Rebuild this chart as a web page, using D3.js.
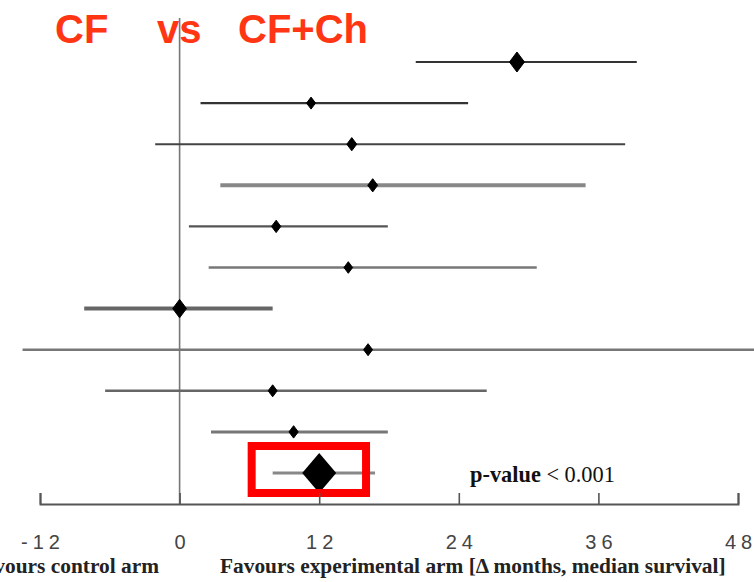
<!DOCTYPE html>
<html><head><meta charset="utf-8">
<script src="https://cdn.jsdelivr.net/npm/d3@7/dist/d3.min.js"></script>
<style>html,body{margin:0;padding:0;background:#fff;}svg{display:block;}</style>
</head><body>
<svg id="c" width="754" height="582"></svg>
<script>
// ---- data (months difference in median survival) ----
const rows     = [1, 2, 3, 4, 5, 6, 7, 8, 9, 10];
const estimate = [29.0, 11.3, 14.8, 16.6, 8.3, 14.5, 0.0, 16.2, 8.0, 9.8];
const lower    = [20.3, 1.8, -2.1, 3.5, 0.8, 2.5, -8.2, -13.5, -6.4, 2.7];
const upper    = [39.3, 24.8, 38.3, 34.9, 17.9, 30.7, 8.0, 52.0, 26.4, 17.9];
const weight   = [3.0, 1.0, 1.3, 1.3, 1.1, 0.9, 2.6, 1.0, 1.0, 1.1];
const pooledEst = 12.0, pooledLo = 8.0, pooledHi = 16.8;
const tickValues = [-12, 0, 12, 24, 36, 48];
const titleParts = ["CF", "vs", "CF+Ch"];
const leftLabel = "Favours control arm";
const rightLabel = "Favours experimental arm [\u0394 months, median survival]";
const pLabelBold = "p-value", pLabelRest = " < 0.001";

// ---- layout ----
const svg = d3.select("#c");
const x = d3.scaleLinear().domain([-12, 48]).range([40, 738]);
const y = d3.scalePoint().domain(d3.range(rows.length + 1)).range([62, 473]);
const hScale = d3.scaleLinear().domain([1, 3]).range([6, 10]);
const axisY = 504;
const serif = "Liberation Serif, Times New Roman, serif";

// title
const titleX = [55, 157, 238];
svg.selectAll("text.title").data(titleParts).join("text")
  .attr("class", "title")
  .attr("x", (d, i) => titleX[i]).attr("y", 43)
  .attr("font-family", "Liberation Sans, Arial, sans-serif")
  .attr("font-weight", "bold").attr("font-size", 40)
  .attr("fill", "#ff3514").text(d => d);

// zero line
svg.append("line")
  .attr("x1", x(0)).attr("x2", x(0)).attr("y1", 18).attr("y2", axisY)
  .attr("stroke", "#777").attr("stroke-width", 1.6);

// CI lines
const lineColor = ["#333", "#333", "#444", "#888", "#555", "#777", "#666", "#777", "#666", "#777"];
const lineWidth = [2.2, 2.2, 2, 4, 2.4, 2.4, 4, 2.6, 2.4, 3];
svg.selectAll("line.ci").data(rows).join("line")
  .attr("class", "ci")
  .attr("x1", (d, i) => x(lower[i])).attr("x2", (d, i) => x(upper[i]))
  .attr("y1", (d, i) => y(i)).attr("y2", (d, i) => y(i))
  .attr("stroke", (d, i) => lineColor[i]).attr("stroke-width", (d, i) => lineWidth[i]);

const diamond = (cx, cy, hw, hh) => `M${cx},${cy - hh}L${cx + hw},${cy}L${cx},${cy + hh}L${cx - hw},${cy}Z`;
svg.selectAll("path.pt").data(rows).join("path")
  .attr("class", "pt")
  .attr("d", (d, i) => { const hh = hScale(weight[i]); return diamond(x(estimate[i]), y(i), hh * 0.75, hh); })
  .attr("fill", "#000").attr("stroke", "#000").attr("stroke-width", 1).attr("stroke-linejoin", "round");

// pooled
const py = y(rows.length);
svg.append("line")
  .attr("x1", x(pooledLo)).attr("x2", x(pooledHi)).attr("y1", py).attr("y2", py)
  .attr("stroke", "#888").attr("stroke-width", 3);
svg.append("path").attr("d", diamond(x(pooledEst), py, 17, 20)).attr("fill", "#000");

// red highlight box
svg.append("rect")
  .attr("x", x(pooledLo) - 21).attr("y", py - 27)
  .attr("width", x(pooledHi) - x(pooledLo) + 12).attr("height", 47)
  .attr("fill", "none").attr("stroke", "#f00").attr("stroke-width", 8);

// p-value
const pt = svg.append("text").attr("x", 470).attr("y", 482)
  .attr("font-family", serif).attr("font-size", 15).attr("fill", "#111");
pt.append("tspan").attr("font-weight", "bold").text(pLabelBold);
pt.append("tspan").text(pLabelRest);
const pw = pt.node().getComputedTextLength();
pt.attr("font-size", 15 * 145 / pw);

// axis
const axis = d3.axisBottom(x).tickValues(tickValues).tickFormat(d => String(d))
  .tickSizeInner(-11).tickSizeOuter(-11).tickPadding(31);
const ag = svg.append("g").attr("transform", `translate(0,${axisY})`).call(axis);
ag.select(".domain").attr("stroke", "#555").attr("stroke-width", 2);
ag.selectAll(".tick line").attr("stroke", "#555").attr("stroke-width", 1.6);
ag.selectAll(".tick text")
  .attr("font-family", "Liberation Sans, Arial, sans-serif").attr("font-size", 20)
  .attr("fill", "#444").attr("letter-spacing", "5px").attr("dx", "2.5px");

// bottom labels
const rl = svg.append("text").attr("x", 220).attr("y", 573)
  .attr("font-family", serif).attr("font-weight", "bold").attr("font-size", 16)
  .attr("fill", "#222").text(rightLabel);
const w0 = rl.node().getComputedTextLength();
const fs = 16 * 506 / w0;
rl.attr("font-size", fs);
svg.append("text").attr("x", 159).attr("y", 573).attr("text-anchor", "end")
  .attr("font-family", serif).attr("font-weight", "bold").attr("font-size", fs)
  .attr("fill", "#222").text(leftLabel);
</script>
</body></html>
